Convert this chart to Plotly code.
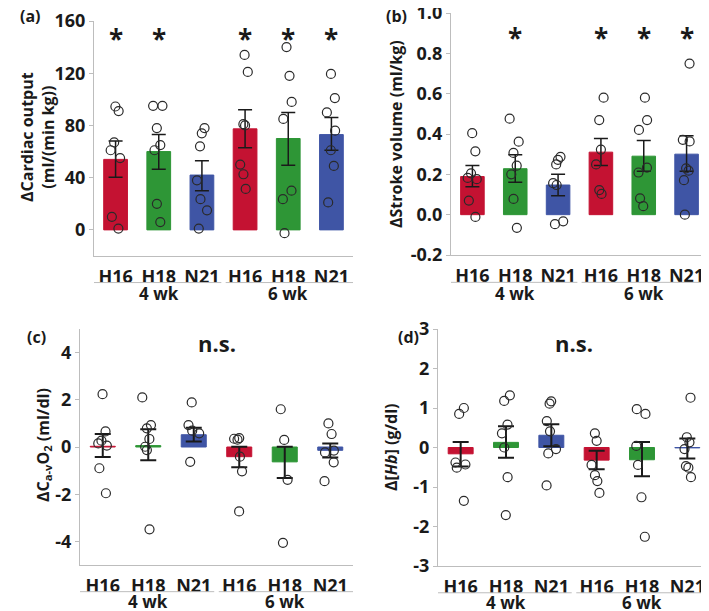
import plotly.graph_objects as go

groups = ["H16", "H18", "N21", "H16", "H18", "N21"]
weeks = ["4 wk", "6 wk"]
bar_colors = ["#C41232", "#2E9636", "#3F55A5", "#C41232", "#2E9636", "#3F55A5"]

# (a) ΔCardiac output
co_mean = [54, 60, 42, 77.4, 70, 73]
co_hi = [68, 73, 53, 92, 90, 86]
co_lo = [40.3, 46.5, 30, 63, 49.5, 61]
co_pts = [
    [94.5, 91, 67, 61, 55, 10, 1],
    [95, 95, 78, 65, 61, 20, 6],
    [78, 74, 64, 38, 23.5, 15, 1],
    [134, 121, 81, 80, 50, 42.6, 31.4],
    [140, 118, 98, 85, 30, 23.5, -2.5],
    [119.5, 101, 90, 76, 61, 49, 21],
]
co_sig = [True, True, False, True, True, True]

# (b) ΔStroke volume
sv_mean = [0.189, 0.228, 0.147, 0.31, 0.29, 0.30]
sv_hi = [0.244, 0.297, 0.200, 0.378, 0.368, 0.391]
sv_lo = [0.138, 0.161, 0.094, 0.244, 0.215, 0.215]
sv_pts = [
    [0.404, 0.314, 0.205, 0.182, 0.176, 0.070, -0.011],
    [0.476, 0.362, 0.306, 0.243, 0.200, 0.078, -0.065],
    [0.287, 0.272, 0.249, 0.156, 0.147, -0.033, -0.047],
    [0.580, 0.469, 0.323, 0.249, 0.122, 0.103],
    [0.580, 0.469, 0.420, 0.233, 0.209, 0.081, 0.042],
    [0.749, 0.371, 0.363, 0.230, 0.218, 0.171, 0.0],
]
sv_sig = [False, True, False, True, True, True]

# (c) ΔCa-vO2
av_mean = [0.03, 0.06, 0.52, -0.41, -0.63, -0.14]
av_hi = [0.55, 0.75, 0.82, 0.01, 0.01, 0.15]
av_lo = [-0.42, -0.56, 0.23, -0.86, -1.31, -0.45]
av_pts = [
    [2.24, 0.66, 0.27, 0.15, 0.06, -0.90, -1.96],
    [2.10, 0.93, 0.79, 0.34, 0.01, -0.13, -3.49],
    [1.89, 0.93, 0.69, 0.58, -0.63],
    [0.38, 0.35, 0.31, -0.41, -1.03, -2.73],
    [1.60, 0.30, -1.39, -4.06],
    [1.00, 0.55, -0.15, -0.23, -0.65, -1.45],
]

# (d) Δ[Hb]
hb_mean = [-0.16, 0.13, 0.31, -0.32, -0.31, -0.01]
hb_hi = [0.14, 0.54, 0.59, -0.085, 0.14, 0.23]
hb_lo = [-0.48, -0.26, 0.03, -0.55, -0.73, -0.28]
hb_pts = [
    [1.00, 0.85, -0.38, -0.43, -0.51, -1.35],
    [1.32, 1.18, 0.58, 0.36, 0.0, -0.75, -1.71],
    [1.17, 1.11, 0.67, 0.41, -0.04, -0.15, -0.96],
    [0.36, 0.17, -0.44, -0.70, -0.85, -1.15],
    [0.97, 0.85, 0.04, -0.44, -1.26, -2.26],
    [1.26, 0.26, 0.13, -0.04, -0.47, -0.51, -0.75],
]

W, H = 709, 611
OFFX, OFFY = 0, 8
FONT = "Open Sans"
TXT = "#1a1a1a"
AXCOL = "#BDBDBD"


def fx(px):
    return (px - OFFX) / W


def fy(py):
    return 1 - (py - OFFY) / H


def b(s):
    return f"<b>{s}</b>"


panels = [
    dict(mean=co_mean, hi=co_hi, lo=co_lo, pts=co_pts, sig=co_sig, sigy=146,
         xd=[fx(86), fx(345)], yd=[fy(256), fy(21)], yr=[-20, 160],
         tv=[0, 40, 80, 120, 160], tt=["0", "40", "80", "120", "160"],
         ew=7, et=1.5, ns=False, gy=-0.16),
    dict(mean=sv_mean, hi=sv_hi, lo=sv_lo, pts=sv_pts, sig=sv_sig, sigy=0.875,
         xd=[fx(443), fx(700)], yd=[fy(255), fy(13)], yr=[-0.2, 1.0],
         tv=[-0.2, 0, 0.2, 0.4, 0.6, 0.8, 1.0],
         tt=["-0.2", "0.0", "0.2", "0.4", "0.6", "0.8", "1.0"],
         ew=7, et=1.5, ns=False, gy=-0.16),
    dict(mean=av_mean, hi=av_hi, lo=av_lo, pts=av_pts, sig=None, sigy=None,
         xd=[fx(72), fx(345)], yd=[fy(565), fy(329)], yr=[-5, 5],
         tv=[-4, -2, 0, 2, 4], tt=["-4", "-2", "0", "2", "4"],
         ew=8, et=2, ns=True, gy=-0.155),
    dict(mean=hb_mean, hi=hb_hi, lo=hb_lo, pts=hb_pts, sig=None, sigy=None,
         xd=[fx(430), fx(702)], yd=[fy(566), fy(329)], yr=[-3, 3],
         tv=[-3, -2, -1, 0, 1, 2, 3], tt=["-3", "-2", "-1", "0", "1", "2", "3"],
         ew=8, et=2, ns=True, gy=-0.155),
]

fig = go.Figure()
annotations = []
shapes = []
xs = list(range(len(groups)))

for i, p in enumerate(panels):
    n = i + 1
    xa = "x" if n == 1 else f"x{n}"
    ya = "y" if n == 1 else f"y{n}"
    up = [h - m for h, m in zip(p["hi"], p["mean"])]
    dn = [m - l for m, l in zip(p["mean"], p["lo"])]
    fig.add_trace(go.Bar(
        x=xs, y=p["mean"], width=0.55, xaxis=xa, yaxis=ya,
        marker=dict(color=bar_colors, line=dict(color=bar_colors, width=1)),
        error_y=dict(type="data", array=up, arrayminus=dn, symmetric=False,
                     color=TXT, thickness=p["et"], width=p["ew"]),
        showlegend=False, hoverinfo="y",
    ))
    bx, by = [], []
    for j, vals in enumerate(p["pts"]):
        bx += [j] * len(vals)
        by += vals
    fig.add_trace(go.Box(
        x=bx, y=by, xaxis=xa, yaxis=ya, boxpoints="all", jitter=0.55, pointpos=0,
        fillcolor="rgba(0,0,0,0)", line=dict(color="rgba(0,0,0,0)", width=0),
        marker=dict(symbol="circle-open", size=9, color="#2a2a2a",
                    line=dict(width=1.2)),
        showlegend=False, hoverinfo="y",
    ))
    axkey_x = "xaxis" if n == 1 else f"xaxis{n}"
    axkey_y = "yaxis" if n == 1 else f"yaxis{n}"
    fig.update_layout(**{
        axkey_x: dict(domain=p["xd"], range=[-0.5, 5.5], anchor=ya, automargin=False,
                      tickvals=xs, ticktext=[b(t) for t in groups], showline=True,
                      linecolor=AXCOL, linewidth=1.2, ticks="outside", ticklen=4,
                      tickcolor="rgba(0,0,0,0)", showgrid=False, zeroline=False,
                      tickfont=dict(family=FONT, size=18, color=TXT),
                      ticklabeloverflow="allow", fixedrange=True),
        axkey_y: dict(domain=p["yd"], range=p["yr"], anchor=xa, automargin=False,
                      tickvals=p["tv"], ticktext=[b(t) for t in p["tt"]], showline=True,
                      linecolor=AXCOL, linewidth=1.2, ticks="outside", ticklen=4,
                      tickcolor=AXCOL, showgrid=False, zeroline=False,
                      tickfont=dict(family=FONT, size=18, color=TXT),
                      ticklabeloverflow="allow", fixedrange=True),
    })
    # group underline and labels
    for g, (a0, a1, c) in enumerate([(-0.5, 2.45, 1), (2.55, 5.5, 4)]):
        shapes.append(dict(type="line", xref=xa, yref=f"{ya} domain",
                           x0=a0, x1=a1, y0=-0.113, y1=-0.113,
                           line=dict(color=AXCOL, width=1)))
        annotations.append(dict(text=b(weeks[g]), xref=xa, yref=f"{ya} domain",
                                x=c, y=p["gy"], showarrow=False, xanchor="center",
                                yanchor="middle",
                                font=dict(family=FONT, size=17, color=TXT)))
    if p["sig"]:
        for j, s in enumerate(p["sig"]):
            if s:
                annotations.append(dict(text=b("*"), xref=xa, yref=ya, x=j, y=p["sigy"],
                                        showarrow=False, xanchor="center", yanchor="middle",
                                        font=dict(family=FONT, size=26, color=TXT)))
    if p["ns"]:
        annotations.append(dict(text=b("n.s."), xref=xa, yref=f"{ya} domain", x=2.5, y=0.94,
                                showarrow=False, xanchor="center", yanchor="middle",
                                font=dict(family=FONT, size=22, color=TXT)))

# axis titles and panel labels
tfont = dict(family=FONT, size=16, color=TXT)
title_defs = [
    (b("ΔCardiac output") + "<br>" + b("(ml/(min kg))"), 29, 137),
    (b("ΔStroke volume (ml/kg)"), 388, 134),
    (b("ΔC<sub>a-v</sub>O<sub>2</sub> (ml/dl)"), 35, 445),
    (b("Δ[<i>Hb</i>] (g/dl)"), 383, 447),
]
for txt, px, py in title_defs:
    annotations.append(dict(text=txt, x=fx(px), y=fy(py), xref="paper", yref="paper",
                            textangle=-90, showarrow=False, font=tfont, align="center",
                            xanchor="center", yanchor="middle"))
pfont = dict(family=FONT, size=16, color=TXT)
for lab, px, py in [("(a)", 22, 16), ("(b)", 388, 16), ("(c)", 28, 337), ("(d)", 400, 337)]:
    annotations.append(dict(text=b(lab), x=fx(px), y=fy(py), xref="paper", yref="paper",
                            showarrow=False, font=pfont, xanchor="center", yanchor="middle"))

fig.update_layout(
    width=W, height=H, margin=dict(l=0, r=0, t=0, b=0, autoexpand=False),
    paper_bgcolor="white", plot_bgcolor="white",
    annotations=annotations, shapes=shapes, showlegend=False,
    bargap=0.45,
)
fig.write_html("out.html")
